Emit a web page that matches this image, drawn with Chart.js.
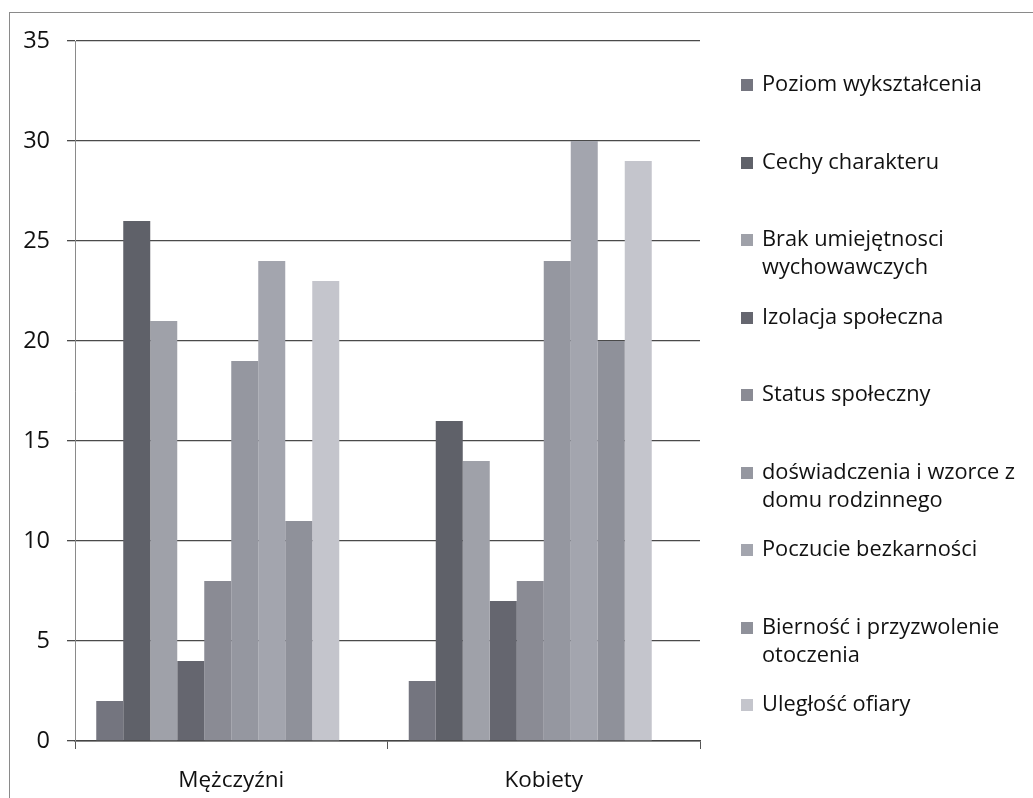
<!DOCTYPE html>
<html>
<head>
<meta charset="utf-8">
<script src="https://cdn.jsdelivr.net/npm/chart.js@4/dist/chart.umd.min.js"></script>
<style>
  html, body { margin: 0; padding: 0; background: #fff; overflow: hidden; }
  #wrap { position: relative; width: 1033px; height: 798px; }
  #frame { position: absolute; left: 9px; top: 12px; width: 1100px; height: 900px; border: 1px solid #8a8a8a; box-sizing: border-box; }
  #c { position: absolute; left: 0; top: 0; }
  #legend { position: absolute; left: 741px; top: 69px; width: 292px; font-family: "Open Sans", sans-serif; font-size: 21.8px; color: #111; }
  .item { height: 77.5px; display: flex; align-items: flex-start; }
  .box { width: 12px; height: 12px; margin-top: 10px; margin-right: 9px; flex: 0 0 12px; }
  .txt { line-height: 28px; white-space: nowrap; }
</style>
</head>
<body>
<div id="wrap">
  <div id="frame"></div>
  <canvas id="c" width="1033" height="798"></canvas>
  <div id="legend"></div>
</div>
<script>
const categories = ["Mężczyźni", "Kobiety"];
const seriesNames = [
  "Poziom wykształcenia",
  "Cechy charakteru",
  "Brak umiejętnosci wychowawczych",
  "Izolacja społeczna",
  "Status społeczny",
  "doświadczenia i wzorce z domu rodzinnego",
  "Poczucie bezkarności",
  "Bierność i przyzwolenie otoczenia",
  "Uległość ofiary"
];
const legendLines = [
  ["Poziom wykształcenia"],
  ["Cechy charakteru"],
  ["Brak umiejętnosci", "wychowawczych"],
  ["Izolacja społeczna"],
  ["Status społeczny"],
  ["doświadczenia i wzorce z", "domu rodzinnego"],
  ["Poczucie bezkarności"],
  ["Bierność i przyzwolenie", "otoczenia"],
  ["Uległość ofiary"]
];
const poziom = [2, 3];
const cechy = [26, 16];
const brak = [21, 14];
const izolacja = [4, 7];
const status = [8, 8];
const doswiadczenia = [19, 24];
const poczucie = [24, 30];
const biernosc = [11, 20];
const uleglosc = [23, 29];
const emptySeries = [null, null];
const yTicks = [0, 5, 10, 15, 20, 25, 30, 35];

const colors = ["#74757f", "#5f6169", "#9fa1a9", "#65666f", "#8a8b94", "#9597a0", "#a3a5ae", "#8f919a", "#c4c5cc"];
const values = [poziom, cechy, brak, izolacja, status, doswiadczenia, poczucie, biernosc, uleglosc];

const datasets = values.map((v, i) => ({
  label: seriesNames[i],
  data: v,
  backgroundColor: colors[i],
  borderWidth: 0
}));
datasets.push({ label: "", data: emptySeries, backgroundColor: "rgba(0,0,0,0)", borderWidth: 0 });

// HTML legend
const lg = document.getElementById('legend');
legendLines.forEach((lines, i) => {
  const it = document.createElement('div'); it.className = 'item';
  const b = document.createElement('div'); b.className = 'box'; b.style.background = colors[i];
  const t = document.createElement('div'); t.className = 'txt'; t.innerHTML = lines.join('<br>');
  it.appendChild(b); it.appendChild(t); lg.appendChild(it);
});

new Chart(document.getElementById('c'), {
  type: 'bar',
  data: { labels: categories, datasets },
  options: {
    responsive: false,
    animation: false,
    devicePixelRatio: 1,
    layout: { padding: { left: 10, top: 41, right: 333, bottom: 0 } },
    plugins: { legend: { display: false }, tooltip: { enabled: false } },
    datasets: { bar: { categoryPercentage: 0.864, barPercentage: 1.0 } },
    scales: {
      x: {
        offset: true,
        grid: { display: true, offset: true, drawOnChartArea: false, drawTicks: true, tickLength: 8, color: '#555', lineWidth: 1 },
        border: { display: true, color: '#444', width: 1.5 },
        ticks: { color: '#111', font: { family: 'Open Sans', size: 22.5 }, padding: 18 },
        afterFit: (s) => { s.height = 57; }
      },
      y: {
        min: 0, max: 35,
        afterBuildTicks: (s) => { s.ticks = yTicks.map(v => ({ value: v })); },
        grid: { color: '#4a4a4a', lineWidth: 1.3, tickLength: 8, drawTicks: true },
        border: { display: true, color: '#8a8a8a', width: 1 },
        ticks: { color: '#111', font: { family: 'Open Sans', size: 23.5 }, padding: 17 },
        afterFit: (s) => { s.width = 65; }
      }
    }
  }
});
</script>
</body>
</html>
